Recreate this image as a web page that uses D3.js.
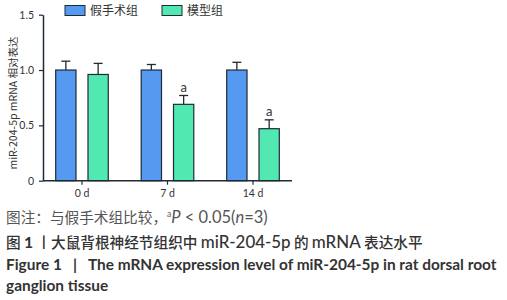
<!DOCTYPE html>
<html><head><meta charset="utf-8">
<script src="https://cdn.jsdelivr.net/npm/d3@7"></script>
<style>
html,body{margin:0;padding:0;background:#fff;}
svg{display:block;}
</style></head>
<body>
<script>
const categories = ["0 d", "7 d", "14 d"];
const seriesNames = ["假手术组", "模型组"];
const shamValues = [1.00, 1.00, 1.00];
const shamErrors = [0.08, 0.05, 0.07];
const modelValues = [0.96, 0.69, 0.47];
const modelErrors = [0.10, 0.08, 0.08];
const modelSig = ["", "a", "a"];
const yTicks = [0, 0.5, 1.0, 1.5];
const yTickLabels = ["0", "0.5", "1.0", "1.5"];

const W = 507, H = 300;
const svg = d3.select("body").append("svg").attr("width", W).attr("height", H);
const cjk = "'Noto Sans CJK SC', 'Noto Sans', sans-serif";
const latin = "Lato, 'Noto Sans CJK SC', sans-serif";
const axisColor = "#1f2a36";
const colors = ["#5599f0", "#52e8b2"];

const y = d3.scaleLinear().domain([0, 1.5]).range([180.7, 14.7]);
const x0 = d3.scaleBand().domain(categories).range([43, 292]).paddingInner(0.385).paddingOuter(0.1485);
const x1 = d3.scaleBand().domain([0, 1]).range([0, x0.bandwidth()]).paddingInner(0.3715);

const g = svg.append("g");

// y axis
const yAxis = d3.axisLeft(y).tickValues(yTicks).tickFormat((d, i) => yTickLabels[i]).tickSize(4).tickSizeOuter(0);
const ya = g.append("g").attr("transform", "translate(43,0)").call(yAxis);
ya.select(".domain").attr("stroke", axisColor).attr("stroke-width", 1.5);
ya.selectAll(".tick line").attr("stroke", axisColor).attr("stroke-width", 1.2);
ya.selectAll(".tick text").attr("font-family", "Lato, sans-serif").attr("font-size", 10.5).attr("fill", "#333").attr("x", -9);

// bars
const data = categories.map((c, i) => ({ c, vals: [
  { s: 0, v: shamValues[i], e: shamErrors[i], sig: "" },
  { s: 1, v: modelValues[i], e: modelErrors[i], sig: modelSig[i] }
]}));

const grp = g.selectAll(".grp").data(data).join("g").attr("transform", d => `translate(${x0(d.c)},0)`);
const bw = x1.bandwidth();
const bars = grp.selectAll(".bar").data(d => d.vals).join("g");
bars.append("line")
  .attr("x1", d => x1(d.s) + bw / 2).attr("x2", d => x1(d.s) + bw / 2)
  .attr("y1", d => y(d.v)).attr("y2", d => y(d.v + d.e))
  .attr("stroke", axisColor).attr("stroke-width", 1.3);
bars.append("line")
  .attr("x1", d => x1(d.s) + bw / 2 - 4.5).attr("x2", d => x1(d.s) + bw / 2 + 4.5)
  .attr("y1", d => y(d.v + d.e)).attr("y2", d => y(d.v + d.e))
  .attr("stroke", axisColor).attr("stroke-width", 1.3);
bars.append("rect")
  .attr("x", d => x1(d.s)).attr("width", bw)
  .attr("y", d => y(d.v)).attr("height", d => y(0) - y(d.v))
  .attr("fill", d => colors[d.s]).attr("stroke", axisColor).attr("stroke-width", 1.2);
bars.filter(d => d.sig).append("text")
  .attr("x", d => x1(d.s) + bw / 2).attr("y", d => y(d.v + d.e) - 3.5)
  .attr("text-anchor", "middle").attr("font-family", "Lato, sans-serif").attr("font-size", 13)
  .attr("fill", "#333").text(d => d.sig);

// x axis
const xAxis = d3.axisBottom(x0).tickSize(4).tickSizeOuter(0);
const xa = g.append("g").attr("transform", `translate(0,${y(0)})`).call(xAxis);
xa.select(".domain").attr("stroke", axisColor).attr("stroke-width", 1.5).attr("d", `M43,0H292`);
xa.selectAll(".tick line").attr("stroke", axisColor).attr("stroke-width", 1.2);
xa.selectAll(".tick text").attr("font-family", "Lato, sans-serif").attr("font-size", 10.5).attr("fill", "#333").attr("y", 9);

// y label
svg.append("text").attr("transform", "translate(17,103) rotate(-90)")
  .attr("text-anchor", "middle").attr("font-family", cjk).attr("font-size", 10.5)
  .attr("fill", "#333").text("miR-204-5p mRNA 相对表达");

// legend
const legX = [65, 162];
seriesNames.forEach((n, i) => {
  svg.append("rect").attr("x", legX[i]).attr("y", 5.5).attr("width", 20).attr("height", 10)
    .attr("fill", colors[i]).attr("stroke", axisColor).attr("stroke-width", 1);
  svg.append("text").attr("x", legX[i] + 25).attr("y", 15)
    .attr("font-family", cjk).attr("font-size", 12).attr("fill", "#333").text(n);
});

// captions
function fitLine(sel, targetRight) {
  const w = sel.node().getComputedTextLength();
  const k = (targetRight - 6) / w;
  sel.selectAll("tspan").each(function() {
    const t = d3.select(this);
    const fs = parseFloat(t.attr("font-size"));
    t.attr("font-size", fs * k);
    if (t.attr("dy")) t.attr("dy", parseFloat(t.attr("dy")) * k);
  });
  return k;
}

const c1 = svg.append("text").attr("x", 6).attr("y", 223).attr("fill", "#555");
c1.append("tspan").attr("font-family", cjk).attr("font-size", 12).text("图注：与假手术组比较，");
c1.append("tspan").attr("font-size", 7).attr("dy", -5).attr("font-family", latin).text("a");
c1.append("tspan").attr("dy", 5).attr("font-family", latin).attr("font-style", "italic").attr("font-size", 13.5).text("P");
c1.append("tspan").attr("font-family", latin).attr("font-size", 13.5).text(" < 0.05(");
c1.append("tspan").attr("font-family", latin).attr("font-style", "italic").attr("font-size", 13.5).text("n");
c1.append("tspan").attr("font-family", latin).attr("font-size", 13.5).text("=3)");
fitLine(c1, 268);

const c2 = svg.append("text").attr("x", 6).attr("y", 248).attr("font-weight", 500).attr("fill", "#333");
c2.append("tspan").attr("font-family", cjk).attr("font-size", 13).text("图 ");
c2.append("tspan").attr("font-family", latin).attr("font-size", 14).attr("font-weight", 700).text("1");
c2.append("tspan").attr("font-family", cjk).attr("font-size", 13).text(" 丨大鼠背根神经节组织中 ");
c2.append("tspan").attr("font-family", latin).attr("font-size", 15).text("miR-204-5p");
c2.append("tspan").attr("font-family", cjk).attr("font-size", 13).text(" 的 ");
c2.append("tspan").attr("font-family", latin).attr("font-size", 15).text("mRNA");
c2.append("tspan").attr("font-family", cjk).attr("font-size", 13).text(" 表达水平");
fitLine(c2, 423);

const c3 = svg.append("text").attr("x", 6).attr("y", 270).attr("font-weight", 700).attr("fill", "#333");
c3.append("tspan").attr("font-family", latin).attr("font-size", 15).attr("xml:space", "preserve")
  .text("Figure 1   |   The mRNA expression level of miR-204-5p in rat dorsal root");
const k3 = fitLine(c3, 497);

svg.append("text").attr("x", 6).attr("y", 291).attr("font-family", latin).attr("font-size", 15 * k3)
  .attr("font-weight", 700).attr("fill", "#333").text("ganglion tissue");
</script>
</body></html>
